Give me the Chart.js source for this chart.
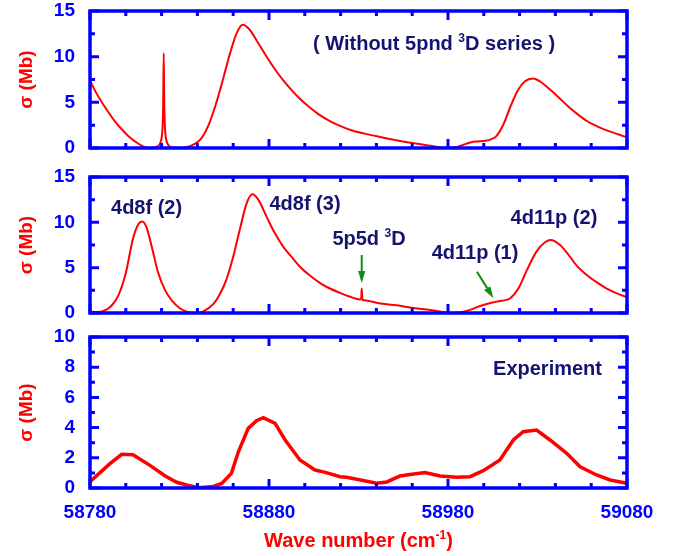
<!DOCTYPE html>
<html>
<head>
<meta charset="utf-8">
<title>Cross section near 58780-59080 cm-1</title>
<script src="https://cdn.jsdelivr.net/npm/chart.js@4.4.1/dist/chart.umd.min.js"></script>
<style>
    body { margin: 0; background: #ffffff; }
    .stage { position: relative; width: 679px; height: 556px; }
    .stage canvas { position: absolute; left: 0; top: 0; }
</style>
</head>
<body>
<div class="stage">
    <canvas id="panelTop" width="679" height="556"></canvas>
    <canvas id="panelMid" width="679" height="556"></canvas>
    <canvas id="panelExp" width="679" height="556"></canvas>
</div>
<script>
// Axis ranges and tick values
const xMin = 58780;
const xMax = 59080;
const xTicks = [58780, 58880, 58980, 59080];
const yTicksTheory = [0, 5, 10, 15];
const yTicksExp = [0, 2, 4, 6, 8, 10];

// Top panel: theory without the 5pnd 3D series
const noSeriesWave = [
    58780, 58783, 58786, 58790, 58794, 58798, 58802, 58806, 58810, 58814,
    58816.5, 58818.5, 58819.8, 58820.5, 58820.9, 58821.2, 58821.5, 58821.9, 58822.6, 58823.9,
    58826, 58830, 58834, 58838, 58842, 58846, 58850, 58854, 58858, 58862,
    58865.3, 58869, 58873, 58878, 58883, 58888, 58893, 58898, 58903, 58908,
    58914, 58920, 58926, 58933, 58941, 58951, 58960, 58970, 58979, 58985,
    58990, 58995, 59001, 59004, 59007, 59011, 59015, 59019, 59023, 59027.5,
    59032, 59037, 59041, 59048, 59053, 59058, 59063, 59069, 59075, 59080
];
const noSeriesSigma = [
    7.4, 6.2, 5.2, 4.0, 2.9, 2.0, 1.2, 0.6, 0.15, 0.0,
    0.08, 0.3, 0.9, 2.2, 4.8, 10.4, 4.8, 2.2, 0.9, 0.3,
    0.05, 0.0, 0.1, 0.4, 1.0, 2.4, 4.6, 7.3, 10.2, 12.6,
    13.5, 13.0, 11.8, 10.2, 8.7, 7.4, 6.25, 5.25, 4.4, 3.65,
    2.95, 2.4, 1.95, 1.6, 1.25, 0.85, 0.55, 0.25, 0.03, 0.12,
    0.45, 0.7, 0.8, 0.95, 1.3, 2.6, 4.6, 6.3, 7.3, 7.6,
    7.2, 6.4, 5.7, 4.4, 3.6, 2.9, 2.4, 1.9, 1.5, 1.17
];

// Middle panel: full theory
const theoryWave = [
    58780, 58784, 58788, 58792, 58796, 58800, 58804, 58807, 58809.2, 58811.5,
    58814.5, 58818, 58822, 58826, 58830, 58834, 58838.7, 58843, 58849, 58852.6,
    58856.4, 58860, 58863.8, 58867.5, 58870.7, 58874, 58878.7, 58883, 58888, 58893,
    58897.3, 58903, 58909, 58914, 58920, 58925.3, 58930.8, 58931.5, 58931.8, 58932.2,
    58934, 58941.3, 58951.3, 58960.6, 58970, 58977, 58983, 58988, 58992.3, 58997,
    59001.6, 59006, 59010, 59014.6, 59019.3, 59024, 59029.5, 59034.2, 59037.4, 59042.6,
    59048.2, 59052, 59057.5, 59063, 59068.7, 59074, 59080
];
const theorySigma = [
    0.15, 0.1, 0.25, 0.8, 2.0, 4.4, 8.2, 9.8, 10.1, 9.5,
    7.3, 4.5, 2.5, 1.3, 0.55, 0.15, 0.0, 0.15, 1.0, 2.1,
    3.8, 6.2, 9.3, 12.1, 13.1, 12.5, 10.6, 8.9, 7.3, 6.1,
    5.1, 4.1, 3.25, 2.7, 2.2, 1.8, 1.5, 1.55, 2.7, 1.45,
    1.38, 1.07, 0.85, 0.55, 0.33, 0.12, 0.03, 0.12, 0.35, 0.7,
    1.0, 1.2, 1.35, 1.6, 2.7, 4.7, 6.8, 7.8, 8.05, 7.5,
    6.2, 5.2, 4.2, 3.4, 2.7, 2.2, 1.73
];

// Bottom panel: experiment
const expWave = [
    58780, 58791, 58797.7, 58804, 58813.5, 58822, 58828.4, 58834, 58840.5, 58848.9,
    58853.6, 58859, 58862.9, 58868.4, 58873, 58876.8, 58883.4, 58889, 58897.3, 58905.7,
    58911, 58919.7, 58923.4, 58940.2, 58945.8, 58953.2, 58958.8, 58967.2, 58975.5, 58984.9,
    58992.3, 58999.7, 59009, 59016.5, 59022, 59029.5, 59037, 59046.3, 59053.8, 59063,
    59070.5, 59080
];
const expSigma = [
    0.42, 1.6, 2.23, 2.2, 1.5, 0.8, 0.38, 0.2, 0.02, 0.1,
    0.3, 0.97, 2.4, 3.95, 4.46, 4.66, 4.28, 3.18, 1.85, 1.19,
    1.05, 0.75, 0.71, 0.31, 0.4, 0.8, 0.9, 1.02, 0.8, 0.71,
    0.75, 1.15, 1.85, 3.18, 3.73, 3.84, 3.18, 2.3, 1.41, 0.86,
    0.53, 0.31
];

// Colours and font
const BLUE = '#0000ff';
const RED = '#ff0000';
const NAVY = '#141470';
const GREEN = '#138a13';
const FONT = "'Liberation Sans', Arial, sans-serif";

function toPoints(xs, ys) {
    return xs.map((x, i) => ({ x: x, y: ys[i] }));
}

function isMajor(v, step) {
    const r = v / step;
    return Math.abs(r - Math.round(r)) < 1e-6;
}

// Text with optional superscript pieces, centred (or left aligned) on x, y = visual middle
function drawRich(ctx, parts, x, y, align, color, size) {
    const supSize = Math.round(size * 0.62);
    let total = 0;
    parts.forEach(p => {
        ctx.font = `bold ${p.sup ? supSize : size}px ${FONT}`;
        total += ctx.measureText(p.t).width;
    });
    let cx = align === 'left' ? x : x - total / 2;
    const base = y + size * 0.36;
    ctx.fillStyle = color;
    ctx.textAlign = 'left';
    ctx.textBaseline = 'alphabetic';
    parts.forEach(p => {
        ctx.font = `bold ${p.sup ? supSize : size}px ${FONT}`;
        ctx.fillText(p.t, cx, p.sup ? base - size * 0.42 : base);
        cx += ctx.measureText(p.t).width;
    });
}

function drawArrow(ctx, x1, y1, x2, y2) {
    const ang = Math.atan2(y2 - y1, x2 - x1);
    const head = 12, half = 3.6;
    const bx = x2 - head * Math.cos(ang), by = y2 - head * Math.sin(ang);
    ctx.save();
    ctx.strokeStyle = GREEN;
    ctx.fillStyle = GREEN;
    ctx.lineWidth = 2;
    ctx.beginPath();
    ctx.moveTo(x1, y1);
    ctx.lineTo(bx, by);
    ctx.stroke();
    ctx.beginPath();
    ctx.moveTo(x2, y2);
    ctx.lineTo(bx + half * Math.sin(ang), by - half * Math.cos(ang));
    ctx.lineTo(bx - half * Math.sin(ang), by + half * Math.cos(ang));
    ctx.closePath();
    ctx.fill();
    ctx.restore();
}

// Box round the plot area with inward ticks on all four sides
const framePlugin = {
    id: 'frame',
    afterDatasetsDraw(chart, args, opts) {
        const { ctx, chartArea: a, scales } = chart;
        const xs = scales.x, ys = scales.y;
        ctx.save();
        ctx.strokeStyle = BLUE;
        ctx.lineWidth = 3;
        ctx.beginPath();
        for (let v = xMin; v <= xMax + 1e-6; v += opts.xMinor) {
            const len = isMajor(v - xMin, opts.xMajor) ? 9 : 5;
            const px = xs.getPixelForValue(v);
            ctx.moveTo(px, a.bottom);
            ctx.lineTo(px, a.bottom - len);
            ctx.moveTo(px, a.top);
            ctx.lineTo(px, a.top + len);
        }
        for (let v = ys.min; v <= ys.max + 1e-6; v += opts.yMinor) {
            const len = isMajor(v, opts.yMajor) ? 9 : 5;
            const py = ys.getPixelForValue(v);
            ctx.moveTo(a.left, py);
            ctx.lineTo(a.left + len, py);
            ctx.moveTo(a.right, py);
            ctx.lineTo(a.right - len, py);
        }
        ctx.stroke();
        ctx.lineWidth = 3.5;
        ctx.strokeRect(a.left, a.top, a.right - a.left, a.bottom - a.top);
        ctx.restore();
    }
};

// Labels, arrows and the x-axis title
const notesPlugin = {
    id: 'notes',
    afterDraw(chart, args, opts) {
        const { ctx, scales, chartArea: a } = chart;
        (opts.labels || []).forEach(l => {
            drawRich(ctx, l.parts, scales.x.getPixelForValue(l.x), scales.y.getPixelForValue(l.y),
                l.align, NAVY, 20);
        });
        (opts.arrows || []).forEach(ar => {
            drawArrow(ctx,
                scales.x.getPixelForValue(ar[0]), scales.y.getPixelForValue(ar[1]),
                scales.x.getPixelForValue(ar[2]), scales.y.getPixelForValue(ar[3]));
        });
        if (opts.xTitle) {
            drawRich(ctx, [{ t: 'Wave number (cm' }, { t: '-1', sup: true }, { t: ')' }],
                (a.left + a.right) / 2, a.bottom + 52, 'center', RED, 20);
        }
    }
};

function makePanel(id, cfg) {
    const tickFont = { family: FONT, size: 19, weight: 'bold' };
    return new Chart(document.getElementById(id), {
        type: 'line',
        data: {
            datasets: [{
                data: toPoints(cfg.xs, cfg.ys),
                borderColor: RED,
                borderWidth: cfg.lineWidth,
                pointRadius: 0,
                fill: false,
                tension: 0,
                cubicInterpolationMode: cfg.smooth ? 'monotone' : 'default'
            }]
        },
        options: {
            responsive: false,
            animation: false,
            events: [],
            layout: { padding: cfg.padding },
            plugins: {
                legend: { display: false },
                tooltip: { enabled: false },
                frame: { xMajor: 100, xMinor: 20, yMajor: cfg.yMajor, yMinor: cfg.yMinor },
                notes: { labels: cfg.labels, arrows: cfg.arrows, xTitle: cfg.showX }
            },
            scales: {
                x: {
                    type: 'linear',
                    min: xMin,
                    max: xMax,
                    grid: { display: false, drawTicks: false },
                    border: { display: false },
                    ticks: {
                        display: cfg.showX,
                        padding: 13,
                        color: BLUE,
                        font: tickFont,
                        maxRotation: 0,
                        autoSkip: false,
                        callback: v => String(v)
                    },
                    afterBuildTicks: s => { s.ticks = xTicks.map(v => ({ value: v })); },
                    afterFit: s => {
                        s.height = cfg.xHeight;
                        s.paddingLeft = 0;
                        s.paddingRight = 0;
                    }
                },
                y: {
                    min: 0,
                    max: cfg.yMax,
                    grid: { display: false, drawTicks: false },
                    border: { display: false },
                    ticks: {
                        padding: 15,
                        color: BLUE,
                        font: tickFont,
                        callback: v => String(v)
                    },
                    title: {
                        display: true,
                        text: 'σ (Mb)',
                        color: RED,
                        padding: 0,
                        font: { family: FONT, size: 19, weight: 'bold' }
                    },
                    afterBuildTicks: s => { s.ticks = cfg.yTicks.map(v => ({ value: v })); },
                    afterFit: s => {
                        s.width = 75;
                        s.paddingTop = 0;
                        s.paddingBottom = 0;
                    }
                }
            }
        },
        plugins: [framePlugin, notesPlugin]
    });
}

makePanel('panelTop', {
    xs: noSeriesWave, ys: noSeriesSigma, smooth: true, lineWidth: 2,
    padding: { top: 11, bottom: 408, left: 15, right: 52 },
    xHeight: 0, showX: false,
    yMax: 15, yTicks: yTicksTheory, yMajor: 5, yMinor: 2.5,
    labels: [
        { parts: [{ t: '( Without 5pnd ' }, { t: '3', sup: true }, { t: 'D series )' }],
          x: 58904.6, y: 11.5, align: 'left' }
    ],
    arrows: []
});

makePanel('panelMid', {
    xs: theoryWave, ys: theorySigma, smooth: true, lineWidth: 2,
    padding: { top: 177, bottom: 243, left: 15, right: 52 },
    xHeight: 0, showX: false,
    yMax: 15, yTicks: yTicksTheory, yMajor: 5, yMinor: 2.5,
    labels: [
        { parts: [{ t: '4d8f (2)' }], x: 58811.6, y: 11.7 },
        { parts: [{ t: '4d8f (3)' }], x: 58900.1, y: 12.2 },
        { parts: [{ t: '5p5d ' }, { t: '3', sup: true }, { t: 'D' }], x: 58935.9, y: 8.3 },
        { parts: [{ t: '4d11p (1)' }], x: 58995.1, y: 6.7 },
        { parts: [{ t: '4d11p (2)' }], x: 59039.2, y: 10.6 }
    ],
    arrows: [
        [58931.8, 6.4, 58931.8, 3.3],
        [58996.2, 4.55, 59005.4, 1.62]
    ]
});

makePanel('panelExp', {
    xs: expWave, ys: expSigma, smooth: false, lineWidth: 3.5,
    padding: { top: 337, bottom: 0, left: 15, right: 52 },
    xHeight: 68, showX: true,
    yMax: 10, yTicks: yTicksExp, yMajor: 2, yMinor: 1,
    labels: [
        { parts: [{ t: 'Experiment' }], x: 59035.6, y: 7.95 }
    ],
    arrows: []
});
</script>
</body>
</html>
